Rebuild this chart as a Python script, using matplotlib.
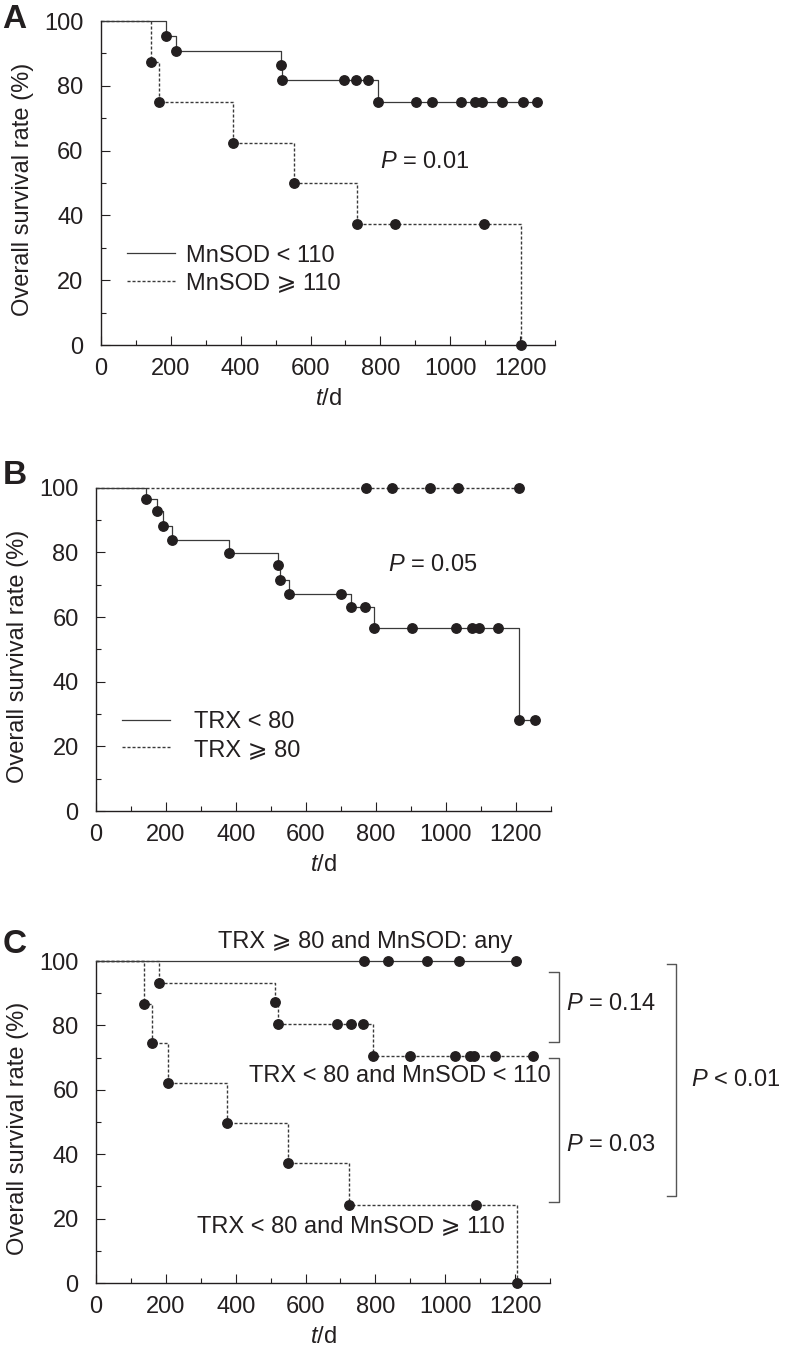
import numpy as np
import matplotlib
matplotlib.use('Agg')
import matplotlib.pyplot as plt
from matplotlib.lines import Line2D
from matplotlib.ticker import MultipleLocator

plt.rcParams['font.family'] = ['Liberation Sans', 'DejaVu Sans']
plt.rcParams['font.size'] = 17
plt.rcParams['mathtext.fontset'] = 'custom'
plt.rcParams['mathtext.rm'] = 'Liberation Sans'
plt.rcParams['mathtext.it'] = 'Liberation Sans:italic'
plt.rcParams['text.color'] = '#231f20'
plt.rcParams['axes.labelcolor'] = '#231f20'
plt.rcParams['xtick.color'] = '#231f20'
plt.rcParams['ytick.color'] = '#231f20'

# Panel A: MnSOD groups (days, survival %)
a_low_event_t = [186, 214, 516, 518, 794]
a_low_event_s = [95.5, 90.9, 86.4, 81.8, 75.0]
a_low_cens_t = [696, 731, 765, 902, 947, 1030, 1071, 1090, 1149, 1207, 1248]
a_high_event_t = [142, 165, 379, 553, 732, 1204]
a_high_event_s = [87.5, 75.0, 62.5, 50.0, 37.5, 0.0]
a_high_cens_t = [843, 1096]

# Panel B: TRX groups
b_low_event_t = [143, 173, 190, 216, 381, 519, 526, 552, 729, 794, 1209]
b_low_event_s = [96.4, 92.7, 88.2, 84.0, 79.7, 76.1, 71.4, 67.3, 63.2, 56.5, 28.3]
b_low_cens_t = [700, 770, 904, 1030, 1073, 1094, 1150, 1253]
b_high_event_t = []
b_high_event_s = []
b_high_cens_t = [772, 847, 953, 1035, 1209]

# Panel C: combined groups
c_any_event_t = []
c_any_event_s = []
c_any_cens_t = [767, 837, 949, 1038, 1203]
c_ll_event_t = [180, 513, 522, 792]
c_ll_event_s = [93.3, 87.4, 80.4, 70.5]
c_ll_cens_t = [691, 730, 765, 899, 1028, 1071, 1083, 1143, 1250]
c_lh_event_t = [138, 161, 207, 376, 551, 724, 1204]
c_lh_event_s = [86.6, 74.6, 62.0, 49.6, 37.2, 24.2, 0.0]
c_lh_cens_t = [1088]

INK = '#231f20'
LINE = '#3a3a3a'
SOLID = dict(ls='-', lw=0.9)
DASHED = dict(ls=(0, (2.2, 1.4)), lw=1.0)


def km_curve(ax, event_t, event_s, cens_t, style, z=2):
    t = np.array([0] + list(event_t), float)
    s = np.array([100] + list(event_s), float)
    end = max(t[-1], max(cens_t))
    ax.step(np.append(t, end), np.append(s, s[-1]), where='post', color=LINE,
            clip_on=False, zorder=z, **style)
    idx = np.searchsorted(t, cens_t, side='right') - 1
    ax.plot(np.concatenate([t[1:], cens_t]), np.concatenate([s[1:], s[idx]]), 'o',
            color=INK, ms=6.8, clip_on=False, zorder=z + 2)


def setup_axes(ax):
    ax.set_xlim(0, 1300)
    ax.set_ylim(0, 100)
    ax.spines['top'].set_visible(False)
    ax.spines['right'].set_visible(False)
    for sp in ('left', 'bottom'):
        ax.spines[sp].set_linewidth(1.0)
        ax.spines[sp].set_color(INK)
    ax.xaxis.set_major_locator(MultipleLocator(200))
    ax.xaxis.set_minor_locator(MultipleLocator(100))
    ax.yaxis.set_major_locator(MultipleLocator(20))
    ax.yaxis.set_minor_locator(MultipleLocator(10))
    ax.tick_params(which='both', direction='in', width=0.8)
    ax.tick_params(which='major', length=6.5)
    ax.tick_params(which='minor', length=3.6)
    ax.tick_params(axis='x', pad=9)
    ax.tick_params(axis='y', pad=12.5)
    ax.set_xlabel('$t$/d')
    ax.xaxis.set_label_coords(0.5, -0.132)
    ax.set_ylabel('Overall survival rate (%)')
    ax.yaxis.set_label_coords(-0.147, 0.48)


def add_legend(ax, labels, textpad):
    handles = [Line2D([], [], color=LINE, **SOLID), Line2D([], [], color=LINE, **DASHED)]
    ax.legend(handles, labels, loc='center left', bbox_to_anchor=(0.057, 0.233),
              frameon=False, borderpad=0, borderaxespad=0, handlelength=2.03,
              handletextpad=textpad, labelspacing=0.25, fontsize=17)


fig = plt.figure(figsize=(7.87, 13.52), dpi=100)
axA = fig.add_axes([0.1283, 0.7448, 0.5769, 0.2396])
axB = fig.add_axes([0.1220, 0.4001, 0.5781, 0.2391])
axC = fig.add_axes([0.1220, 0.0510, 0.5769, 0.2382])

# A
setup_axes(axA)
km_curve(axA, a_high_event_t, a_high_event_s, a_high_cens_t, DASHED)
km_curve(axA, a_low_event_t, a_low_event_s, a_low_cens_t, SOLID)
add_legend(axA, ['MnSOD < 110', 'MnSOD \u2a7e 110'], 0.47)
axA.text(799, 56.6, '$P$ = 0.01', va='center', ha='left')

# B
setup_axes(axB)
km_curve(axB, b_low_event_t, b_low_event_s, b_low_cens_t, SOLID)
km_curve(axB, b_high_event_t, b_high_event_s, b_high_cens_t, DASHED, z=3)
add_legend(axB, ['TRX < 80', 'TRX \u2a7e 80'], 1.02)
axB.text(833, 76.1, '$P$ = 0.05', va='center', ha='left')

# C
setup_axes(axC)
km_curve(axC, c_lh_event_t, c_lh_event_s, c_lh_cens_t, DASHED)
km_curve(axC, c_ll_event_t, c_ll_event_s, c_ll_cens_t, DASHED)
km_curve(axC, c_any_event_t, c_any_event_s, c_any_cens_t, SOLID, z=3)
axC.text(772, 106.0, 'TRX \u2a7e 80 and MnSOD: any', ha='center', va='center', clip_on=False)
axC.text(870, 64.3, 'TRX < 80 and MnSOD < 110', ha='center', va='center')
axC.text(730, 17.7, 'TRX < 80 and MnSOD \u2a7e 110', ha='center', va='center')

# comparison brackets
BR = dict(color='#555555', lw=1.0, clip_on=False)
axC.plot([1297, 1325, 1325, 1297], [96.6, 96.6, 74.8, 74.8], **BR)
axC.plot([1297, 1325, 1325, 1297], [69.9, 69.9, 25.2, 25.2], **BR)
axC.plot([1635, 1661, 1661, 1635], [99.1, 99.1, 27.0, 27.0], **BR)
axC.text(1346, 86.6, '$P$ = 0.14', va='center', ha='left')
axC.text(1346, 42.9, '$P$ = 0.03', va='center', ha='left')
axC.text(1703, 63.0, '$P$ < 0.01', va='center', ha='left')

for lab, y in (('A', 1 - 4 / 1352), ('B', 1 - 460 / 1352), ('C', 1 - 929 / 1352)):
    fig.text(0.003, y, lab, fontsize=24, fontweight='bold', va='top', ha='left')

fig.savefig('out.png', dpi=100)
